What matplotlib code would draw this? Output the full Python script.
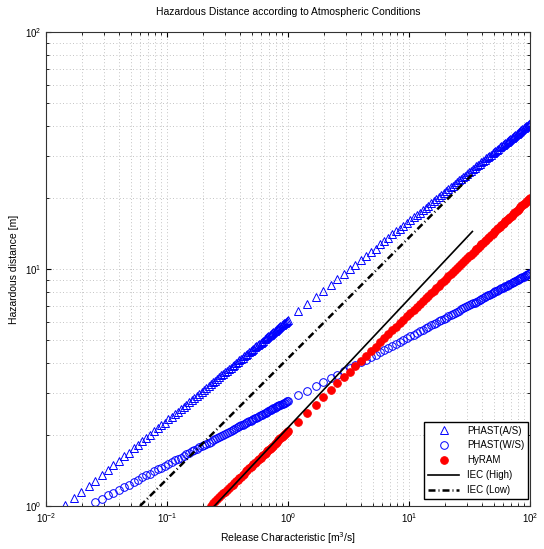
import matplotlib
matplotlib.use("Agg")
import matplotlib.pyplot as plt

plt.rcParams["font.family"] = ["Liberation Sans", "DejaVu Sans"]

# release characteristic [m3/s], shared by the three point series
release = [
    0.0144, 0.0169, 0.0196, 0.0225, 0.0256, 0.0289, 0.0324, 0.0361, 0.04, 0.0441,
    0.0484, 0.0529, 0.0576, 0.0625, 0.0676, 0.0729, 0.0784, 0.0841, 0.09, 0.0961,
    0.1024, 0.1089, 0.1156, 0.1225, 0.1296, 0.1369, 0.1444, 0.1521, 0.16, 0.1681,
    0.1764, 0.1849, 0.1936, 0.2025, 0.2116, 0.2209, 0.2304, 0.2401, 0.25, 0.2601,
    0.2704, 0.2809, 0.2916, 0.3025, 0.3136, 0.3249, 0.3364, 0.3481, 0.36, 0.3721,
    0.3844, 0.3969, 0.4096, 0.4225, 0.4356, 0.4489, 0.4624, 0.4761, 0.49, 0.5041,
    0.5184, 0.5329, 0.5476, 0.5625, 0.5776, 0.5929, 0.6084, 0.6241, 0.64, 0.6561,
    0.6724, 0.6889, 0.7056, 0.7225, 0.7396, 0.7569, 0.7744, 0.7921, 0.81, 0.8281,
    0.8464, 0.8649, 0.8836, 0.9025, 0.9216, 0.9409, 0.9604, 0.9801, 1,
    1.21, 1.44, 1.69, 1.96, 2.25, 2.56, 2.89, 3.24, 3.61, 4,
    4.41, 4.84, 5.29, 5.76, 6.25, 6.76, 7.29, 7.84, 8.41, 9,
    9.61, 10.24, 10.89, 11.56, 12.25, 12.96, 13.69, 14.44, 15.21, 16,
    16.81, 17.64, 18.49, 19.36, 20.25, 21.16, 22.09, 23.04, 24.01, 25,
    26.01, 27.04, 28.09, 29.16, 30.25, 31.36, 32.49, 33.64, 34.81, 36,
    37.21, 38.44, 39.69, 40.96, 42.25, 43.56, 44.89, 46.24, 47.61, 49,
    50.41, 51.84, 53.29, 54.76, 56.25, 57.76, 59.29, 60.84, 62.41, 64,
    65.61, 67.24, 68.89, 70.56, 72.25, 73.96, 75.69, 77.44, 79.21, 81,
    82.81, 84.64, 86.49, 88.36, 90.25, 92.16, 94.09, 96.04, 98.01, 100,
]

phast_as = [
    1.01, 1.08, 1.15, 1.22, 1.28, 1.35, 1.42, 1.49, 1.55, 1.62,
    1.68, 1.75, 1.81, 1.88, 1.94, 2, 2.07, 2.13, 2.19, 2.25,
    2.32, 2.38, 2.44, 2.5, 2.56, 2.62, 2.68, 2.74, 2.8, 2.86,
    2.92, 2.98, 3.04, 3.09, 3.15, 3.21, 3.27, 3.33, 3.38, 3.44,
    3.5, 3.56, 3.61, 3.67, 3.73, 3.78, 3.84, 3.9, 3.95, 4.01,
    4.06, 4.12, 4.17, 4.23, 4.28, 4.34, 4.4, 4.45, 4.5, 4.56,
    4.61, 4.67, 4.72, 4.78, 4.83, 4.88, 4.94, 4.99, 5.05, 5.1,
    5.15, 5.21, 5.26, 5.31, 5.37, 5.42, 5.47, 5.52, 5.58, 5.63,
    5.68, 5.74, 5.79, 5.84, 5.89, 5.94, 6, 6.05, 6.1,
    6.62, 7.12, 7.61, 8.09, 8.57, 9.04, 9.51, 9.97, 10.4, 10.9,
    11.3, 11.8, 12.2, 12.7, 13.1, 13.5, 14, 14.4, 14.8, 15.2,
    15.7, 16.1, 16.5, 16.9, 17.3, 17.7, 18.1, 18.5, 18.9, 19.3,
    19.7, 20.1, 20.5, 20.9, 21.3, 21.7, 22.1, 22.5, 22.9, 23.3,
    23.7, 24, 24.4, 24.8, 25.2, 25.6, 25.9, 26.3, 26.7, 27.1,
    27.5, 27.8, 28.2, 28.6, 28.9, 29.3, 29.7, 30, 30.4, 30.8,
    31.1, 31.5, 31.9, 32.2, 32.6, 32.9, 33.3, 33.7, 34, 34.4,
    34.7, 35.1, 35.4, 35.8, 36.2, 36.5, 36.9, 37.2, 37.6, 37.9,
    38.3, 38.6, 39, 39.3, 39.7, 40, 40.3, 40.7, 41, 41.4,
]

phast_ws = [
    1.04, 1.07, 1.11, 1.14, 1.17, 1.2, 1.23, 1.26, 1.29, 1.32,
    1.35, 1.37, 1.4, 1.43, 1.45, 1.48, 1.51, 1.53, 1.56, 1.58,
    1.6, 1.63, 1.65, 1.68, 1.7, 1.72, 1.74, 1.77, 1.79, 1.81,
    1.83, 1.85, 1.87, 1.89, 1.91, 1.94, 1.96, 1.98, 2, 2.02,
    2.04, 2.05, 2.07, 2.09, 2.11, 2.13, 2.15, 2.17, 2.19, 2.2,
    2.22, 2.24, 2.26, 2.28, 2.29, 2.31, 2.33, 2.35, 2.36, 2.38,
    2.4, 2.42, 2.43, 2.45, 2.47, 2.48, 2.5, 2.51, 2.53, 2.55,
    2.56, 2.58, 2.6, 2.61, 2.63, 2.64, 2.66, 2.67, 2.69, 2.7,
    2.72, 2.73, 2.75, 2.77, 2.78,
    2.93, 3.07, 3.2, 3.33, 3.46, 3.58, 3.7, 3.81, 3.93, 4.04,
    4.14, 4.25, 4.35, 4.45, 4.55, 4.65, 4.74, 4.84, 4.93, 5.02,
    5.11, 5.2, 5.28, 5.37, 5.45, 5.54, 5.62, 5.7, 5.78, 5.86,
    5.94, 6.02, 6.09, 6.17, 6.24, 6.32, 6.39, 6.46, 6.54, 6.61,
    6.68, 6.75, 6.82, 6.89, 6.96, 7.02, 7.09, 7.16, 7.22, 7.29,
    7.35, 7.42, 7.48, 7.55, 7.61, 7.67, 7.74, 7.8, 7.86, 7.92,
    7.98, 8.04, 8.1, 8.16, 8.22, 8.28, 8.34, 8.39, 8.45, 8.51,
    8.57, 8.62, 8.68, 8.74, 8.79, 8.85, 8.9, 8.96, 9.01, 9.07,
    9.12, 9.17, 9.23, 9.28, 9.33, 9.39, 9.44, 9.49, 9.54, 9.59,
]

hyram = [
    1, 1.03, 1.05, 1.07, 1.09, 1.11, 1.13, 1.15, 1.17, 1.19,
    1.21, 1.23, 1.25, 1.27, 1.29, 1.31, 1.33, 1.35, 1.37, 1.4,
    1.42, 1.44, 1.46, 1.48, 1.5, 1.52, 1.54, 1.56, 1.58, 1.6,
    1.62, 1.64, 1.66, 1.68, 1.7, 1.72, 1.74, 1.76, 1.78, 1.8,
    1.83, 1.85, 1.87, 1.89, 1.91, 1.93, 1.95, 1.97, 1.99, 2.01,
    2.03, 2.05, 2.07,
    2.27, 2.48, 2.68, 2.88, 3.09, 3.29, 3.49, 3.69, 3.9, 4.1,
    4.3, 4.5, 4.7, 4.9, 5.1, 5.31, 5.51, 5.71, 5.91, 6.11,
    6.31, 6.51, 6.71, 6.91, 7.11, 7.31, 7.51, 7.71, 7.91, 8.11,
    8.31, 8.51, 8.71, 8.91, 9.11, 9.31, 9.51, 9.7, 9.9, 10.1,
    10.3, 10.5, 10.7, 10.9, 11.1, 11.3, 11.5, 11.7, 11.9, 12.1,
    12.3, 12.5, 12.7, 12.9, 13.1, 13.3, 13.5, 13.7, 13.9, 14.1,
    14.3, 14.5, 14.7, 14.9, 15.1, 15.3, 15.5, 15.7, 15.9, 16.1,
    16.2, 16.4, 16.6, 16.8, 17, 17.2, 17.4, 17.6, 17.8, 18,
    18.2, 18.4, 18.6, 18.8, 19, 19.2, 19.4, 19.6, 19.8, 20,
]

# IEC lines, end points
iec_high_x = [0.246, 33.4]
iec_high_y = [1.0, 14.4]
iec_low_x = [0.0598, 33.4]
iec_low_y = [1.0, 25.1]

fig = plt.figure(figsize=(5.44, 5.49), dpi=100)
ax = fig.add_axes([0.0846, 0.0783, 0.8897, 0.8634])

ax.plot(release[-len(phast_as):], phast_as, "^", color="b", mfc="none", ms=5.5, mew=0.7,
        label="PHAST(A/S)")
ax.plot(release[-len(phast_ws):], phast_ws, "o", color="b", mfc="none", ms=5.5, mew=0.7,
        label="PHAST(W/S)")
ax.plot(release[-len(hyram):], hyram, "o", color="r", ms=5.5, mew=0.7, label="HyRAM")
ax.plot(iec_high_x, iec_high_y, "-", color="k", lw=1.2, label="IEC (High)")
ax.plot(iec_low_x, iec_low_y, color="k", lw=1.8, dashes=(2.8, 1.2, 0.4, 1.2),
        label="IEC (Low)")

ax.set_xscale("log")
ax.set_yscale("log")
ax.set_xlim(0.01, 100)
ax.set_ylim(1, 100)
ax.grid(True, which="both", ls=(0, (1, 3)), color="#b0b0b0", lw=0.6)
ax.tick_params(which="both", direction="in", top=True, right=True, labelsize=7)
for s in ax.spines.values():
    s.set_linewidth(0.8)
    s.set_color("#333333")

ax.set_title("Hazardous Distance according to Atmospheric Conditions", fontsize=7.5, pad=12)
ax.set_xlabel("Release Characteristic [m$^3$/s]", fontsize=7.5)
ax.set_ylabel("Hazardous distance [m]", fontsize=7.5)
ax.legend(loc="lower right", bbox_to_anchor=(0.996, 0.015), borderaxespad=0, fontsize=7,
          fancybox=False, edgecolor="k", framealpha=1, handlelength=3.2)

fig.savefig("out.png")
